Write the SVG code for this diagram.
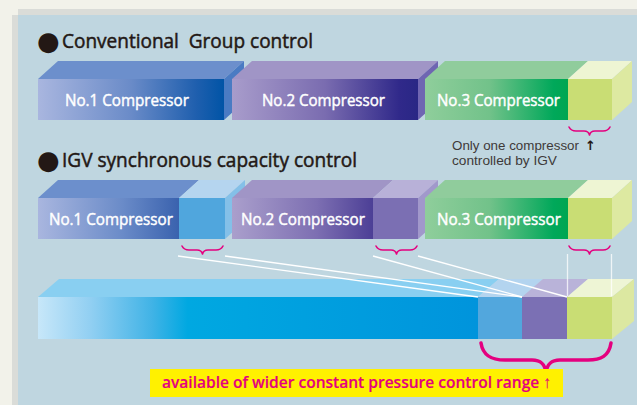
<svg xmlns="http://www.w3.org/2000/svg" width="637" height="405" viewBox="0 0 637 405">
<defs>
<linearGradient id="gBlue1" x1="0" x2="1" y1="0" y2="0"><stop offset="0" stop-color="#a9b6df"/><stop offset="0.5" stop-color="#6a8bc8"/><stop offset="0.85" stop-color="#1f5fae"/><stop offset="1" stop-color="#0054a6"/></linearGradient>
<linearGradient id="gBlue2" x1="0" x2="1" y1="0" y2="0"><stop offset="0" stop-color="#a9b6df"/><stop offset="0.6" stop-color="#6a8bc8"/><stop offset="1" stop-color="#3a62ae"/></linearGradient>
<linearGradient id="gPur1" x1="0" x2="1" y1="0" y2="0"><stop offset="0" stop-color="#a89ccb"/><stop offset="0.5" stop-color="#7a6cb0"/><stop offset="0.9" stop-color="#30298a"/><stop offset="1" stop-color="#292785"/></linearGradient>
<linearGradient id="gPur2" x1="0" x2="1" y1="0" y2="0"><stop offset="0" stop-color="#aa9fcc"/><stop offset="0.6" stop-color="#7d6fb2"/><stop offset="1" stop-color="#4c3f96"/></linearGradient>
<linearGradient id="gGrn" x1="0" x2="1" y1="0" y2="0"><stop offset="0" stop-color="#8fce9b"/><stop offset="0.45" stop-color="#72c28a"/><stop offset="0.9" stop-color="#00a85a"/><stop offset="1" stop-color="#00a651"/></linearGradient>
<linearGradient id="gBar" x1="0" x2="1" y1="0" y2="0"><stop offset="0" stop-color="#c7e7f9"/><stop offset="0.12" stop-color="#91cff2"/><stop offset="0.26" stop-color="#40b3e6"/><stop offset="0.34" stop-color="#00a8e1"/><stop offset="1" stop-color="#0094dc"/></linearGradient>
</defs>
<style>
.lbl{font-family:"Open Sans","Noto Sans","Liberation Sans",sans-serif;font-size:15.5px;fill:#ffffff;stroke:#ffffff;stroke-width:0.45}
.ttl{font-family:"Open Sans","Noto Sans","Liberation Sans",sans-serif;font-size:19.5px;fill:#231815;stroke:#231815;stroke-width:0.5}
.bul{font-family:"DejaVu Sans",sans-serif;font-size:26px;fill:#231815}
.note{font-family:"Liberation Sans","DejaVu Sans",sans-serif;font-size:13px;fill:#3e3a39}
.brace{fill:none;stroke:#e4007f;stroke-width:1.6;stroke-linecap:round;stroke-linejoin:round}
.conn{stroke:#ffffff;stroke-width:1.3;fill:none}
.vconn{stroke:#ffffff;stroke-width:1.3;stroke-opacity:0.75;fill:none}
.arw{font-family:"DejaVu Sans",sans-serif;font-weight:bold}
</style>
<rect width="637" height="405" fill="#f2f2ea"/>
<rect x="18" y="9" width="619" height="396" fill="#dadcd8"/>
<rect x="12" y="15" width="625" height="390" fill="#dadcd8"/>
<rect x="18" y="15" width="619" height="390" fill="#bfd6e0"/>

<g id="title1">
<text class="bul" x="37" y="50">●</text>
<text class="ttl" x="62" y="48" textLength="251" lengthAdjust="spacingAndGlyphs" xml:space="preserve">Conventional  Group control</text>
</g>

<g id="r1-no1">
<polygon points="38,79 58,61 244,61 224,79" fill="#6c8fcc"/>
<polygon points="224,79 244,61 244,102 224,120" fill="#4a7bc3"/>
<rect x="38" y="79" width="186" height="41" fill="url(#gBlue1)"/>
<text class="lbl" x="65" y="106" textLength="124" lengthAdjust="spacingAndGlyphs">No.1 Compressor</text>
</g>
<g id="r1-no2">
<polygon points="232,79 252,61 438,61 418,79" fill="#a095c6"/>
<polygon points="418,79 438,61 438,102 418,120" fill="#6f66b2"/>
<rect x="232" y="79" width="186" height="41" fill="url(#gPur1)"/>
<text class="lbl" x="262" y="106" textLength="123" lengthAdjust="spacingAndGlyphs">No.2 Compressor</text>
</g>
<g id="r1-no3">
<polygon points="425,79 445,61 588,61 568,79" fill="#90cc9c"/>
<rect x="425" y="79" width="143" height="41" fill="url(#gGrn)"/>
<polygon points="568,79 588,61 632,61 612,79" fill="#eef5d3"/>
<rect x="568" y="79" width="44" height="41" fill="#c9dd74"/>
<polygon points="612,79 632,61 632,102 612,120" fill="#dde9a1"/>
<text class="lbl" x="437" y="106" textLength="123" lengthAdjust="spacingAndGlyphs">No.3 Compressor</text>
</g>
<path class="brace" d="M569,127 Q571,131 576,131 L584,131 Q588.5,131 589.5,135 Q590.5,131 595,131 L603,131 Q608,131 610,127"/>
<g id="note">
<text class="note" x="452" y="150"><tspan textLength="127" lengthAdjust="spacingAndGlyphs">Only one compressor</tspan><tspan class="arw" x="585" style="fill:#231815">↑</tspan></text>
<text class="note" x="452" y="165" textLength="105" lengthAdjust="spacingAndGlyphs">controlled by IGV</text>
</g>

<g id="title2">
<text class="bul" x="37" y="169">●</text>
<text class="ttl" x="62" y="167" textLength="295" lengthAdjust="spacingAndGlyphs">IGV synchronous capacity control</text>
</g>

<g id="r2-no1">
<polygon points="38,198 58,180 199,180 179,198" fill="#6c8fcc"/>
<rect x="38" y="198" width="141" height="41" fill="url(#gBlue2)"/>
<polygon points="179,198 199,180 245,180 225,198" fill="#b5d5ef"/>
<rect x="179" y="198" width="46" height="41" fill="#50a6dd"/>
<polygon points="225,198 245,180 245,221 225,239" fill="#84c0e8"/>
<text class="lbl" x="49" y="225" textLength="124" lengthAdjust="spacingAndGlyphs">No.1 Compressor</text>
</g>
<g id="r2-no2">
<polygon points="232,198 252,180 393,180 373,198" fill="#a095c6"/>
<rect x="232" y="198" width="141" height="41" fill="url(#gPur2)"/>
<polygon points="373,198 393,180 438,180 418,198" fill="#b8b1d8"/>
<rect x="373" y="198" width="45" height="41" fill="#7b6fb3"/>
<polygon points="418,198 438,180 438,221 418,239" fill="#a198cb"/>
<text class="lbl" x="241" y="225" textLength="124" lengthAdjust="spacingAndGlyphs">No.2 Compressor</text>
</g>
<g id="r2-no3">
<polygon points="425,198 445,180 588,180 568,198" fill="#90cc9c"/>
<rect x="425" y="198" width="143" height="41" fill="url(#gGrn)"/>
<polygon points="568,198 588,180 632,180 612,198" fill="#eef5d3"/>
<rect x="568" y="198" width="44" height="41" fill="#c9dd74"/>
<polygon points="612,198 632,180 632,221 612,239" fill="#dde9a1"/>
<text class="lbl" x="437" y="225" textLength="124" lengthAdjust="spacingAndGlyphs">No.3 Compressor</text>
</g>
<path class="brace" d="M182,246 Q184,250 189,250 L197,250 Q201.5,250 202.5,254 Q203.5,250 208,250 L216,250 Q221,250 223,246"/>
<path class="brace" d="M376,246 Q378,250 383,250 L391,250 Q395.5,250 396.5,254 Q397.5,250 402,250 L410,250 Q415,250 417,246"/>
<path class="brace" d="M569,246 Q571,250 576,250 L584,250 Q588.5,250 589.5,254 Q590.5,250 595,250 L603,250 Q608,250 610,246"/>

<g id="bar">
<polygon points="38,297 59,279 499,279 478,297" fill="#89cff1"/>
<rect x="38" y="297" width="440" height="42" fill="url(#gBar)"/>
<polygon points="478,297 499,279 543,279 522,297" fill="#b3d4ef"/>
<rect x="478" y="297" width="44" height="42" fill="#52a7dd"/>
<polygon points="522,297 543,279 588,279 567,297" fill="#b9b3d9"/>
<rect x="522" y="297" width="45" height="42" fill="#7b70b4"/>
<polygon points="567,297 588,279 634,279 612,297" fill="#eef5d5"/>
<rect x="567" y="297" width="45" height="42" fill="#c9dd74"/>
<polygon points="612,297 634,279 634,321 612,339" fill="#dce8a1"/>
</g>

<g id="connectors">
<line class="conn" x1="178" y1="256" x2="478" y2="297"/>
<line class="conn" x1="225" y1="256" x2="522" y2="297"/>
<line class="conn" x1="373" y1="256" x2="522" y2="297"/>
<line class="conn" x1="418" y1="256" x2="567" y2="297"/>
<line class="vconn" x1="567.5" y1="254" x2="567.5" y2="296"/>
<line class="vconn" x1="611.5" y1="254" x2="611.5" y2="296"/>
</g>

<path fill="none" stroke="#e4007f" stroke-width="3.5" stroke-linecap="round" stroke-linejoin="round" d="M481,343 C483,356 492,360 505,360 L532,360 C541,360 545,364 546,373 C547,364 551,360 560,360 L588,360 C601,360 609,356 611,343"/>

<g id="range-label">
<rect x="150" y="369" width="413" height="28" fill="#fff100"/>
<text x="162" y="388" font-family="'Open Sans','Noto Sans','Liberation Sans','DejaVu Sans',sans-serif" font-weight="600" font-size="17" fill="#e4007f" stroke="#e4007f" stroke-width="0.2" textLength="389" lengthAdjust="spacingAndGlyphs">available of wider constant pressure control range ↑</text>
</g>
</svg>
